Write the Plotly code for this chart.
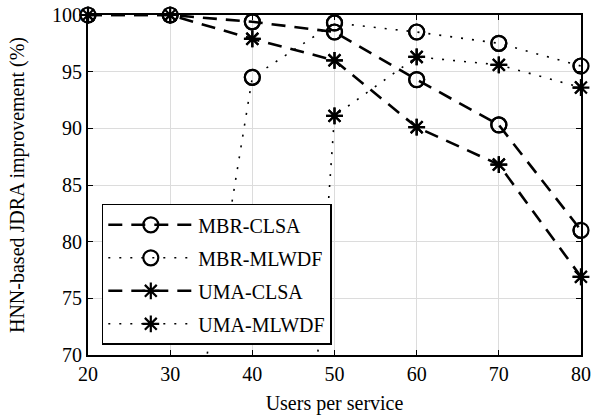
import plotly.graph_objects as go

# Users per service (x axis)
users = [20, 30, 40, 50, 60, 70, 80]

# HNN-based JDRA improvement (%) per scheme
mbr_clsa = [100, 100, 99.4, 98.5, 94.3, 90.3, 81.0]
mbr_mlwdf = [None, 50.0, 94.5, 99.3, 98.5, 97.5, 95.5]
uma_clsa = [100, 100, 97.9, 96.0, 90.1, 86.8, 76.9]
uma_mlwdf = [None, None, -12.0, 91.1, 96.3, 95.6, 93.6]

y_range = [70, 100]
x_range = [20, 80]

series = [
    ("MBR-CLSA", mbr_clsa, "circle-open", "dash"),
    ("MBR-MLWDF", mbr_mlwdf, "circle-open", "dot"),
    ("UMA-CLSA", uma_clsa, "asterisk-open", "dash"),
    ("UMA-MLWDF", uma_mlwdf, "asterisk-open", "dot"),
]

dash_styles = {"dash": "14px,9px", "dot": "2px,9px"}
line_widths = {"dash": 2.6, "dot": 1.6}

FONT = "Liberation Serif, Times New Roman, serif"

fig = go.Figure()
for name, vals, sym, style in series:
    msize = 15 if sym == "circle-open" else 14
    # line (clipped to the axes) plus legend entry
    fig.add_trace(go.Scatter(
        x=users, y=vals, name=name, mode="lines+markers",
        legendgroup=name,
        line=dict(color="black", width=line_widths[style], dash=dash_styles[style]),
        marker=dict(symbol=sym, size=msize, color="black",
                    line=dict(color="black", width=2.2)),
        connectgaps=False,
        cliponaxis=True,
    ))
    # markers that sit inside the value range, drawn unclipped on the frame
    xs = [x for x, v in zip(users, vals) if v is not None and y_range[0] <= v <= y_range[1]]
    ys = [v for v in vals if v is not None and y_range[0] <= v <= y_range[1]]
    fig.add_trace(go.Scatter(
        x=xs, y=ys, mode="markers", showlegend=False, legendgroup=name,
        marker=dict(symbol=sym, size=msize, color="black",
                    line=dict(color="black", width=2.2)),
        cliponaxis=False, hoverinfo="skip",
    ))

axis_common = dict(
    showline=True, linecolor="black", linewidth=1.8, mirror="allticks",
    ticks="inside", ticklen=5, tickwidth=1.2, tickcolor="black",
    showgrid=True, gridcolor="#dcdcdc", gridwidth=1.2,
    zeroline=False, automargin=False,
    tickfont=dict(family=FONT, size=20, color="black"),
)

fig.update_xaxes(
    range=x_range, dtick=10, tick0=20,
    title=dict(text="Users per service", font=dict(family=FONT, size=20, color="black"), standoff=12),
    **axis_common,
)
fig.update_yaxes(
    range=y_range, dtick=5, tick0=70,
    title=dict(text="HNN-based JDRA improvement (%)", font=dict(family=FONT, size=20, color="black"), standoff=22),
    **axis_common,
)

fig.update_layout(
    width=591, height=419,
    margin=dict(l=88, r=10, t=15, b=64),
    plot_bgcolor="white", paper_bgcolor="white",
    font=dict(family=FONT, size=20, color="black"),
    showlegend=True,
    legend=dict(
        x=0.028, y=0.03, xanchor="left", yanchor="bottom",
        bgcolor="white", bordercolor="black", borderwidth=1.5,
        font=dict(family=FONT, size=20, color="black"),
        tracegroupgap=4, itemwidth=85,
    ),
)

fig.write_html("out.html")
